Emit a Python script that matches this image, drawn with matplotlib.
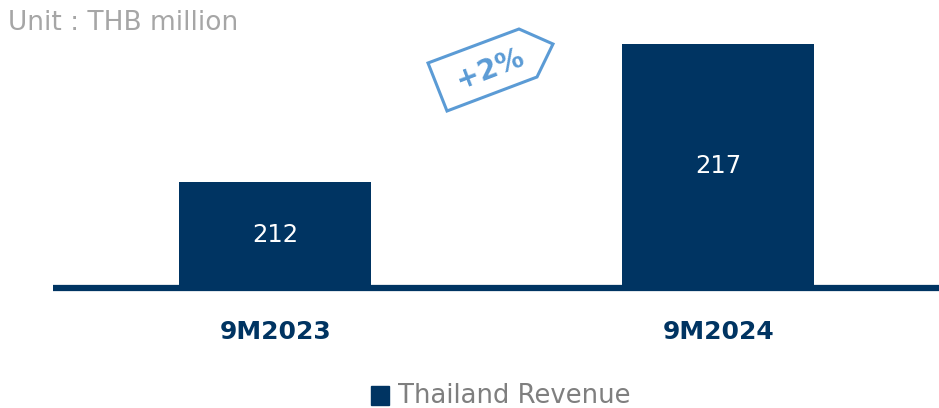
import matplotlib
matplotlib.use('Agg')
import matplotlib.pyplot as plt
import matplotlib.transforms as mtransforms
from matplotlib.patches import Polygon

#=== Data ===#
periods = ["9M2023", "9M2024"]
revenue = [212, 217]
growth_label = "+2%"
series_name = "Thailand Revenue"
unit_text = "Unit : THB million"

#=== Style ===#
navy = "#003462"
tag_blue = "#5b9bd5"
W, H = 939, 408
plt.rcParams['font.family'] = ['DejaVu Sans']

fig = plt.figure(figsize=(W / 100, H / 100), dpi=100)

def px(x, y):
    # pixel position (top-left origin) -> figure fraction
    return x / W, 1 - y / H

# axes: left edge at baseline start, bottom on the baseline
ax = fig.add_axes([53 / W, (H - 287.5) / H, 1 - 53 / W, 287.5 / H])
x = list(range(len(periods)))
y_floor = 208.2
bars = ax.bar(x, revenue, width=0.434, color=navy, zorder=2)
ax.set_xlim(-0.5016, 1.4984)
ax.set_ylim(y_floor, 218.6)

for b, v in zip(bars, revenue):
    ax.text(b.get_x() + b.get_width() / 2, (y_floor + v) / 2, f"{v}",
            ha='center', va='center', color='white', fontsize=17.5)

for s in ['top', 'right', 'left']:
    ax.spines[s].set_visible(False)
ax.spines['bottom'].set_color(navy)
ax.spines['bottom'].set_linewidth(4.5)
ax.spines['bottom'].set_capstyle('butt')
ax.spines['bottom'].set_zorder(3)
ax.set_yticks([])
ax.set_xticks([])

# category labels under the baseline
trans = mtransforms.blended_transform_factory(ax.transData, fig.transFigure)
for xi, name in zip(x, periods):
    ax.text(xi, px(0, 339)[1], name, transform=trans, ha='center', va='baseline',
            fontsize=18, fontweight='bold', color=navy)

#=== Unit label ===#
fig.text(*px(8, 29.5), unit_text, fontsize=19, color='#a6a6a6', va='baseline', ha='left')

#=== Growth tag ===#
tag_pts = [px(428, 63), px(447, 111), px(537, 77), px(553, 44), px(519, 29)]
fig.patches.append(Polygon(tag_pts, closed=True, fill=False, edgecolor=tag_blue,
                           linewidth=2.2, transform=fig.transFigure))
fig.text(*px(490, 69), growth_label, fontsize=20, fontweight='bold', color=tag_blue,
         rotation=21, ha='center', va='center')

#=== Legend ===#
fig.patches.append(plt.Rectangle(px(371, 405), 18 / W, 19 / H, color=navy,
                                 transform=fig.transFigure))
fig.text(*px(398, 403), series_name, fontsize=18.6, color='#7f7f7f', va='baseline', ha='left')

fig.savefig("out.png", dpi=100)
